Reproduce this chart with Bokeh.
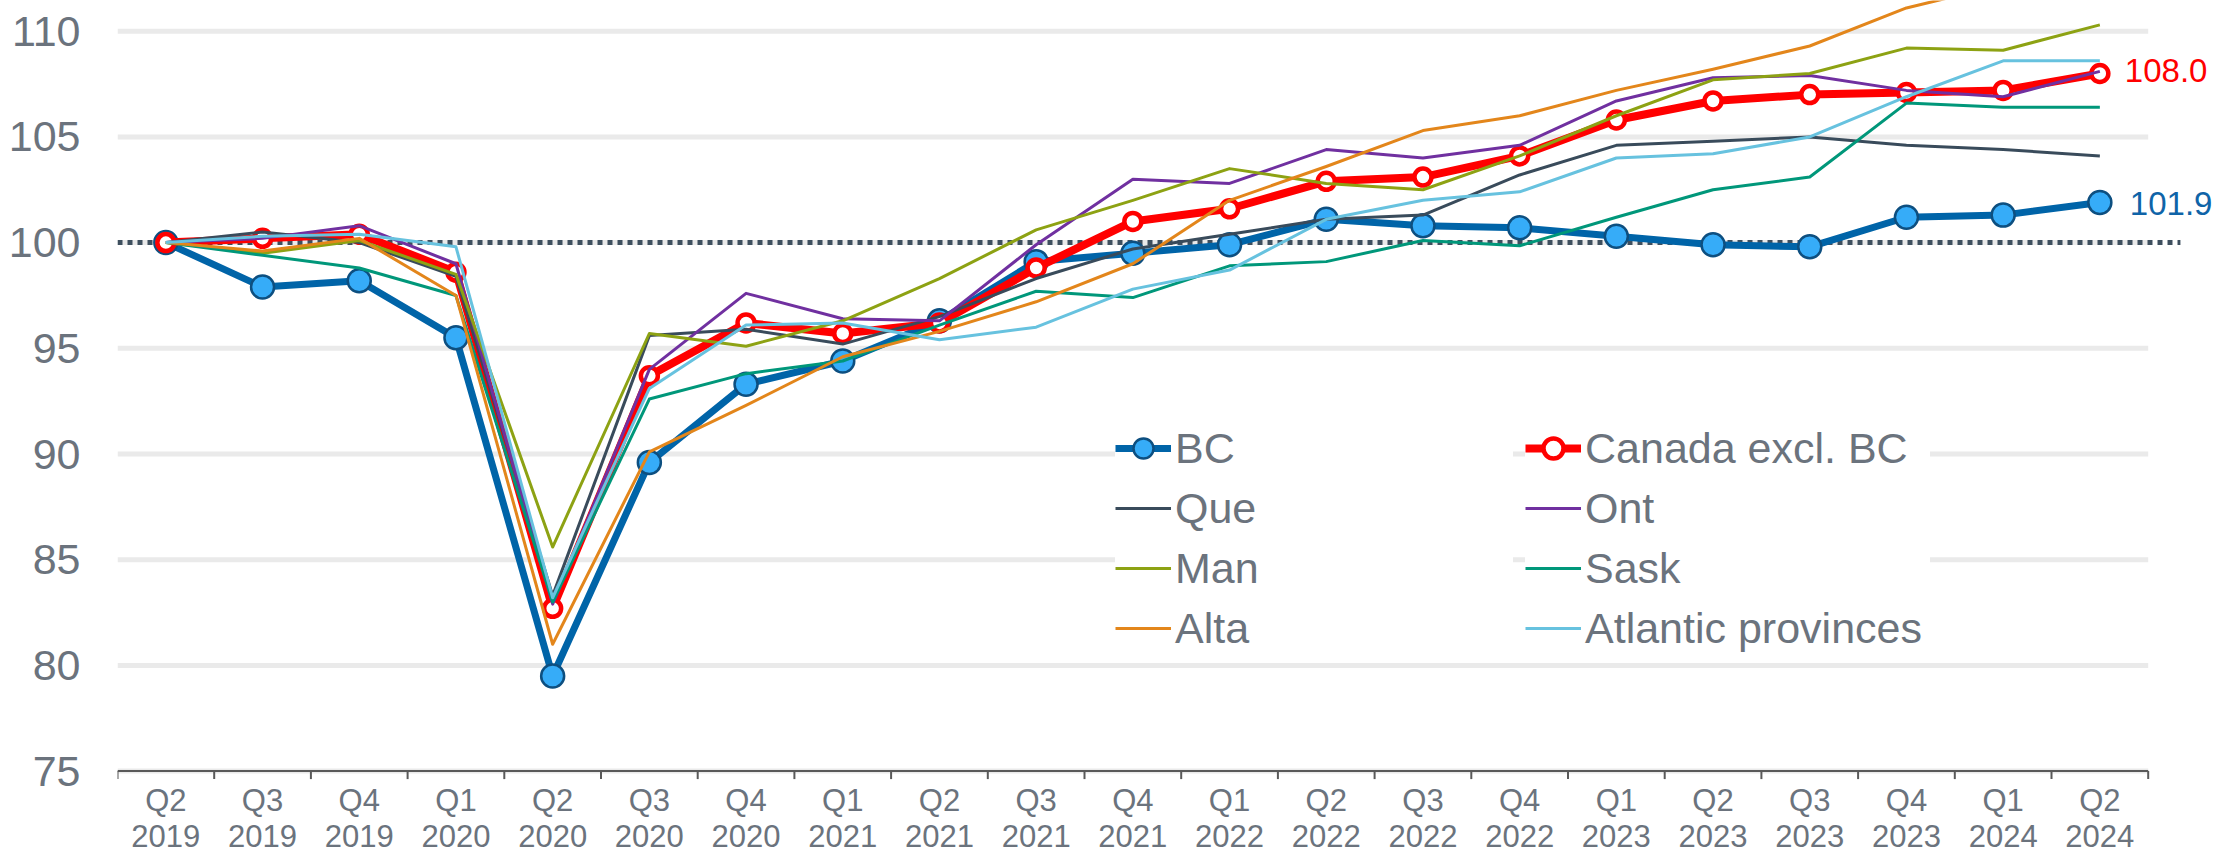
from bokeh.plotting import figure
from bokeh.models import Range1d, FixedTicker, Legend, LegendItem, Label
from bokeh.core.properties import value
from bokeh.embed import file_html
from bokeh.resources import INLINE

quarters = ["Q2 2019", "Q3 2019", "Q4 2019", "Q1 2020", "Q2 2020", "Q3 2020", "Q4 2020",
            "Q1 2021", "Q2 2021", "Q3 2021", "Q4 2021", "Q1 2022", "Q2 2022", "Q3 2022",
            "Q4 2022", "Q1 2023", "Q2 2023", "Q3 2023", "Q4 2023", "Q1 2024", "Q2 2024"]

bc = [100.0, 97.9, 98.2, 95.5, 79.5, 89.6, 93.3, 94.4, 96.3, 99.1, 99.5, 99.9, 101.1, 100.8,
      100.7, 100.3, 99.9, 99.8, 101.2, 101.3, 101.9]
canada_excl_bc = [100.0, 100.2, 100.4, 98.6, 82.7, 93.7, 96.2, 95.7, 96.2, 98.8, 101.0, 101.6,
                  102.9, 103.1, 104.1, 105.8, 106.7, 107.0, 107.1, 107.2, 108.0]
que = [100.0, 100.5, 100.0, 98.4, 83.3, 95.6, 95.9, 95.2, 96.5, 98.3, 99.7, 100.4, 101.1, 101.3,
       103.2, 104.6, 104.8, 105.0, 104.6, 104.4, 104.1]
ont = [100.0, 100.2, 100.8, 99.0, 82.9, 94.0, 97.6, 96.4, 96.3, 99.9, 103.0, 102.8, 104.4, 104.0,
       104.6, 106.7, 107.8, 107.9, 107.2, 106.9, 108.1]
man = [100.0, 99.5, 100.1, 98.5, 85.6, 95.7, 95.1, 96.3, 98.3, 100.6, 102.0, 103.5, 102.8, 102.5,
       104.1, 106.0, 107.7, 108.0, 109.2, 109.1, 110.3]
sask = [100.0, 99.4, 98.8, 97.5, 83.0, 92.6, 93.8, 94.4, 96.1, 97.7, 97.4, 98.9, 99.1, 100.1,
        99.85, 101.2, 102.5, 103.1, 106.6, 106.4, 106.4]
alta = [100.0, 99.6, 100.2, 97.5, 81.0, 90.1, 92.3, 94.6, 95.8, 97.2, 99.0, 102.0, 103.6, 105.3,
        106.0, 107.2, 108.2, 109.3, 111.1, 112.2, 112.9]
atlantic = [100.0, 100.3, 100.4, 99.8, 83.2, 93.1, 96.1, 96.2, 95.4, 96.0, 97.8, 98.7, 101.1, 102.0,
            102.4, 104.0, 104.2, 105.0, 106.9, 108.6, 108.6]

y_ticks = [75, 80, 85, 90, 95, 100, 105, 110]
baseline = 100

FONT = "Liberation Sans"
GRAY = "#6B737D"
AXIS = "#595959"

W, H = 2230, 858
BORDER_L, BORDER_R = 117, 6
CAT_PX = 96.7          # pixels per category
PPU = 21.14            # pixels per index point
TOP_GAP = 30.7         # pixels from frame top to the highest gridline
TICK_LEN = 8

n = len(quarters)
xs = list(range(n))
x_lo = -0.5
x_hi = x_lo + (W - BORDER_L - BORDER_R) / CAT_PX
y_hi = y_ticks[-1] + TOP_GAP / PPU
y_lo = y_ticks[-1] - (H - TOP_GAP) / PPU

p = figure(width=W, height=H, output_backend="svg", toolbar_location=None,
           x_range=Range1d(x_lo, x_hi), y_range=Range1d(y_lo, y_hi),
           x_axis_location=None,
           min_border_left=BORDER_L, min_border_right=BORDER_R, min_border_top=0,
           min_border_bottom=0)
p.outline_line_color = None
p.background_fill_color = "white"
p.border_fill_color = "white"
p.xgrid.visible = False
p.ygrid.visible = False

# horizontal gridlines over the category extent
p.segment(x0=[x_lo] * len(y_ticks), x1=[n - 0.5] * len(y_ticks), y0=y_ticks, y1=y_ticks,
          line_color="#EAEAEA", line_width=5)
# category axis line and the tick marks between categories
bounds = [i - 0.5 for i in range(n + 1)]
p.segment(x0=[x_lo], x1=[n - 0.5], y0=[y_ticks[0]], y1=[y_ticks[0]], line_color=AXIS, line_width=2)
p.segment(x0=bounds, x1=bounds, y0=[y_ticks[0]] * len(bounds),
          y1=[y_ticks[0] - TICK_LEN / PPU] * len(bounds), line_color=AXIS, line_width=2)
# dotted reference line at 100
p.segment(x0=[x_lo], x1=[n - 0.5 + 1 / 3], y0=[baseline], y1=[baseline],
          line_color="#3E4F5E", line_width=5, line_dash="5 5")

p.yaxis.ticker = FixedTicker(ticks=y_ticks)
p.yaxis.axis_line_color = None
p.yaxis.major_tick_line_color = None
p.yaxis.minor_tick_line_color = None
p.yaxis.major_tick_out = 0
p.yaxis.major_label_text_font = FONT
p.yaxis.major_label_text_font_size = "43px"
p.yaxis.major_label_text_color = GRAY
p.yaxis.major_label_standoff = 37

# category labels below the axis (quarter, then year)
q_part = [q.split(" ")[0] for q in quarters]
y_part = [q.split(" ")[1] for q in quarters]
p.text(x=xs, y=[y_ticks[0]] * n, text=q_part, y_offset=29, text_align="center",
       text_baseline="alphabetic", text_font=value(FONT), text_font_size="31px", text_color=GRAY)
p.text(x=xs, y=[y_ticks[0]] * n, text=y_part, y_offset=65, text_align="center",
       text_baseline="alphabetic", text_font=value(FONT), text_font_size="31px", text_color=GRAY)

# BC
bc_line = p.line(xs, bc, line_color="#0064A8", line_width=7, line_join="round")
bc_pts = p.scatter(xs, bc, size=23, fill_color="#36ACF8", line_color="#0D4F80", line_width=2.5)

# Canada excl. BC
ca_line = p.line(xs, canada_excl_bc, line_color="#FF0000", line_width=8, line_join="round")
ca_pts = p.scatter(xs, canada_excl_bc, size=17, fill_color="white", line_color="#FF0000", line_width=4.5)

thin = {}
for name, data, color in [("Que", que, "#394B5B"), ("Ont", ont, "#7030A0"), ("Man", man, "#8DA213"),
                          ("Sask", sask, "#00977A"), ("Alta", alta, "#E3861B"),
                          ("Atlantic provinces", atlantic, "#67C2DF")]:
    thin[name] = p.line(xs, data, line_color=color, line_width=3, line_join="round")

col1 = [
    LegendItem(label="BC", renderers=[bc_line, bc_pts]),
    LegendItem(label="Que", renderers=[thin["Que"]]),
    LegendItem(label="Man", renderers=[thin["Man"]]),
    LegendItem(label="Alta", renderers=[thin["Alta"]]),
]
col2 = [
    LegendItem(label="Canada excl. BC", renderers=[ca_line, ca_pts]),
    LegendItem(label="Ont", renderers=[thin["Ont"]]),
    LegendItem(label="Sask", renderers=[thin["Sask"]]),
    LegendItem(label="Atlantic provinces", renderers=[thin["Atlantic provinces"]]),
]
common = dict(orientation="vertical", glyph_width=56, glyph_height=50, label_height=50,
              label_standoff=4, spacing=10, padding=6, margin=0,
              label_text_font=FONT, label_text_font_size="43px", label_text_color=GRAY,
              background_fill_color="white", background_fill_alpha=1.0, border_line_color=None)
leg1 = Legend(items=col1, location=(998, 205), label_width=338, **common)
leg2 = Legend(items=col2, location=(1408, 205), label_width=345, **common)
p.add_layout(leg1, "center")
p.add_layout(leg2, "center")

p.add_layout(Label(x=xs[-1], y=canada_excl_bc[-1], text=f"{canada_excl_bc[-1]:.1f}",
                   x_offset=25, y_offset=3, text_baseline="middle", text_font=FONT,
                   text_font_size="33px", text_color="#FF0000"))
p.add_layout(Label(x=xs[-1], y=bc[-1], text=f"{bc[-1]:.1f}",
                   x_offset=30, y_offset=-1, text_baseline="middle", text_font=FONT,
                   text_font_size="33px", text_color="#0F64A8"))

open("out.html", "w").write(file_html(p, INLINE))
